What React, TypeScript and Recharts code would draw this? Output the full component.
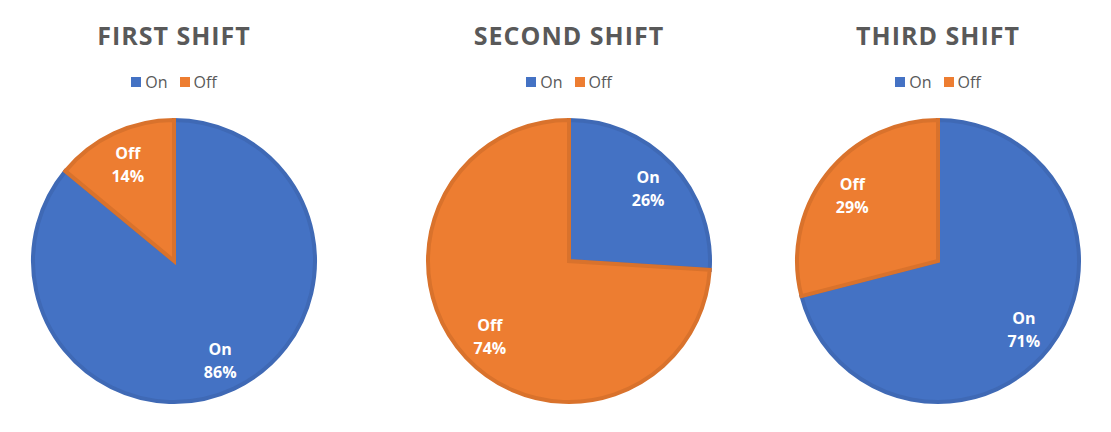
import React from 'react';
import { PieChart, Pie, Cell, Legend } from 'recharts';

const categories = ['On', 'Off'];
const shiftTitles = ['FIRST SHIFT', 'SECOND SHIFT', 'THIRD SHIFT'];
const firstShift = [86, 14];
const secondShift = [26, 74];
const thirdShift = [71, 29];

const FILLS = ['#4472C4', '#ED7D31'];
const STROKES = ['#3F69B5', '#D9722C'];
const RAD = Math.PI / 180;
const FONT = '"Open Sans", "Noto Sans", sans-serif';

const renderLabel = (props: any) => {
  const { cx, cy, midAngle, outerRadius, name, percent } = props;
  const r = outerRadius * 0.77;
  const x = cx + r * Math.cos(-midAngle * RAD);
  const y = cy + r * Math.sin(-midAngle * RAD);
  return (
    <text
      x={x}
      y={y}
      fill="#ffffff"
      textAnchor="middle"
      fontFamily={FONT}
      fontWeight={700}
      fontSize={16}
    >
      <tspan x={x} dy={-4}>{name}</tspan>
      <tspan x={x} dy={23}>{`${Math.round(percent * 100)}%`}</tspan>
    </text>
  );
};

// legend in series order (On, Off)
const renderLegend = () => (
  <div style={{ display: 'flex', justifyContent: 'center', fontFamily: FONT, fontSize: 16, color: '#595959' }}>
    {categories.map((c, i) => (
      <span key={c} style={{ display: 'inline-flex', alignItems: 'center', marginRight: i === 0 ? 12 : 0 }}>
        <span style={{ display: 'inline-block', width: 10, height: 10, background: FILLS[i], marginRight: 4 }} />
        {c}
      </span>
    ))}
  </div>
);

// centre x of each pie on the page
const centres = [174, 569, 938];
const CHART_W = 340;

const ShiftPie: React.FC<{ title: string; values: number[]; centre: number }> = ({ title, values, centre }) => {
  const data = categories.map((name, i) => ({ name, value: values[i] }));
  return (
    <div style={{ position: 'absolute', left: centre - CHART_W / 2, top: 0, width: CHART_W, height: 432 }}>
      <div
        style={{
          position: 'absolute',
          top: 18,
          width: CHART_W,
          textAlign: 'center',
          fontFamily: FONT,
          fontWeight: 700,
          fontSize: 25,
          letterSpacing: 1,
          color: '#595959',
        }}
      >
        {title}
      </div>
      <PieChart width={CHART_W} height={432} margin={{ top: 0, right: 0, bottom: 0, left: 0 }}>
        <Legend
          verticalAlign="top"
          align="center"
          height={22}
          content={renderLegend}
          wrapperStyle={{ top: 71 }}
        />
        <Pie
          data={data}
          dataKey="value"
          nameKey="name"
          cx={CHART_W / 2}
          cy={239}
          outerRadius={141}
          startAngle={90}
          endAngle={-270}
          label={renderLabel}
          labelLine={false}
          isAnimationActive={false}
        >
          {data.map((d, i) => (
            <Cell key={d.name} fill={FILLS[i]} stroke={STROKES[i]} strokeWidth={4} />
          ))}
        </Pie>
      </PieChart>
    </div>
  );
};

const App: React.FC = () => {
  const series = [firstShift, secondShift, thirdShift];
  return (
    <div style={{ position: 'relative', width: 1111, height: 432, margin: '-8px 0 0 -8px', background: '#fff' }}>
      {shiftTitles.map((t, i) => (
        <ShiftPie key={t} title={t} values={series[i]} centre={centres[i]} />
      ))}
    </div>
  );
};

export default App;
